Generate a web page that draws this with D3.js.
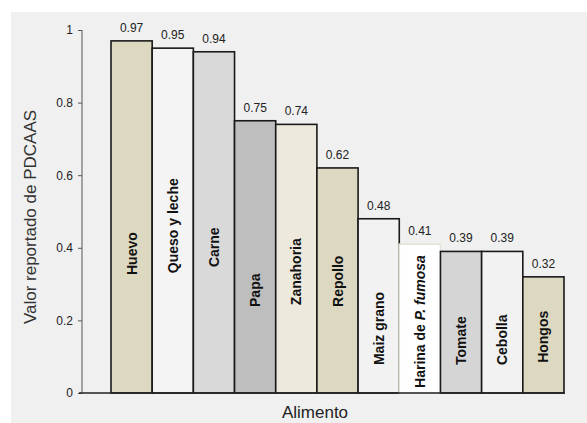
<!DOCTYPE html>
<html>
<head>
<meta charset="utf-8">
<style>
  html, body { margin: 0; padding: 0; background: #fff; }
  svg { display: block; font-family: "Liberation Sans", Arial, sans-serif; }
</style>
</head>
<body>
<svg width="587" height="423"></svg>
<script src="https://cdnjs.cloudflare.com/ajax/libs/d3/7.8.5/d3.min.js"></script>
<script>
// data
const foods = ["Huevo", "Queso y leche", "Carne", "Papa", "Zanahoria", "Repollo",
               "Maiz grano", "Harina de P. fumosa", "Tomate", "Cebolla", "Hongos"];
const pdcaas = [0.97, 0.95, 0.94, 0.75, 0.74, 0.62, 0.48, 0.41, 0.39, 0.39, 0.32];
const yTicks = [0, 0.2, 0.4, 0.6, 0.8, 1];

// styling
const fills = ["#ddd8c0", "#f4f4f4", "#d9d9d9", "#bebebe", "#ede9dd", "#ddd8c1",
               "#f2f2f2", "#ffffff", "#d5d5d5", "#f2f2f2", "#ddd8c0"];
// where each rotated label ends (value units)
const labelEnd = [0.325, 0.33, 0.347, 0.237, 0.242, 0.237, 0.077, 0.014, 0.077, 0.077, 0.083];

const svg = d3.select("svg");

svg.append("rect")
    .attr("x", 11).attr("y", 12)
    .attr("width", 576).attr("height", 411)
    .attr("fill", "#f0f0f0");

const x = d3.scaleBand().domain(foods).range([111, 564]).padding(0);
const y = d3.scaleLinear().domain([0, 1]).range([393, 30]);

// y axis
const yAxis = d3.axisLeft(y)
    .tickValues(yTicks)
    .tickSize(4)
    .tickPadding(5)
    .tickFormat(d => d === 0 || d === 1 ? d3.format("d")(d) : d3.format(".1f")(d));

const ga = svg.append("g")
    .attr("transform", "translate(82,0)")
    .call(yAxis);
ga.select(".domain").attr("stroke", "#555").attr("d", "M0,30V393");
ga.selectAll(".tick line").attr("stroke", "#555");
ga.selectAll(".tick text").attr("fill", "#222").style("font-size", "12px")
    .style("font-family", "'Liberation Sans', Arial, sans-serif");

// bars
svg.append("g").selectAll("rect")
    .data(foods)
    .join("rect")
    .attr("x", d => x(d))
    .attr("y", (d, i) => y(pdcaas[i]))
    .attr("width", x.bandwidth())
    .attr("height", (d, i) => y(0) - y(pdcaas[i]))
    .attr("fill", (d, i) => fills[i])
    .attr("stroke", (d, i) => i === 7 ? "#e6e4d6" : "#1a1a1a")
    .attr("stroke-width", 1.6);

// x axis line
svg.append("line")
    .attr("x1", 79).attr("x2", 565)
    .attr("y1", y(0)).attr("y2", y(0))
    .attr("stroke", "#222").attr("stroke-width", 1.6);

// value labels
svg.append("g").selectAll("text")
    .data(foods)
    .join("text")
    .attr("x", d => x(d) + x.bandwidth() / 2)
    .attr("y", (d, i) => y(pdcaas[i]) - 9)
    .attr("text-anchor", "middle")
    .attr("fill", "#222")
    .style("font-size", "12px")
    .text((d, i) => pdcaas[i].toFixed(2));

// rotated category labels inside bars
const lab = svg.append("g").selectAll("text")
    .data(foods)
    .join("text")
    .attr("transform", (d, i) => "translate(" + (x(d) + x.bandwidth() / 2 + 5) + "," + y(labelEnd[i]) + ") rotate(-90)")
    .attr("text-anchor", "start")
    .attr("fill", "#111")
    .style("font-size", "14px")
    .style("font-weight", "bold");

lab.each(function(d) {
    const t = d3.select(this);
    if (d === "Harina de P. fumosa") {
        t.append("tspan").text("Harina de ");
        t.append("tspan").style("font-style", "italic").text("P. fumosa");
    } else {
        t.text(d);
    }
});

// axis titles
svg.append("text")
    .attr("transform", "translate(36,217) rotate(-90)")
    .attr("text-anchor", "middle")
    .attr("fill", "#333")
    .style("font-size", "17px")
    .text("Valor reportado de PDCAAS");

svg.append("text")
    .attr("x", 315).attr("y", 418)
    .attr("text-anchor", "middle")
    .attr("fill", "#222")
    .style("font-size", "17px")
    .text("Alimento");
</script>
</body>
</html>
